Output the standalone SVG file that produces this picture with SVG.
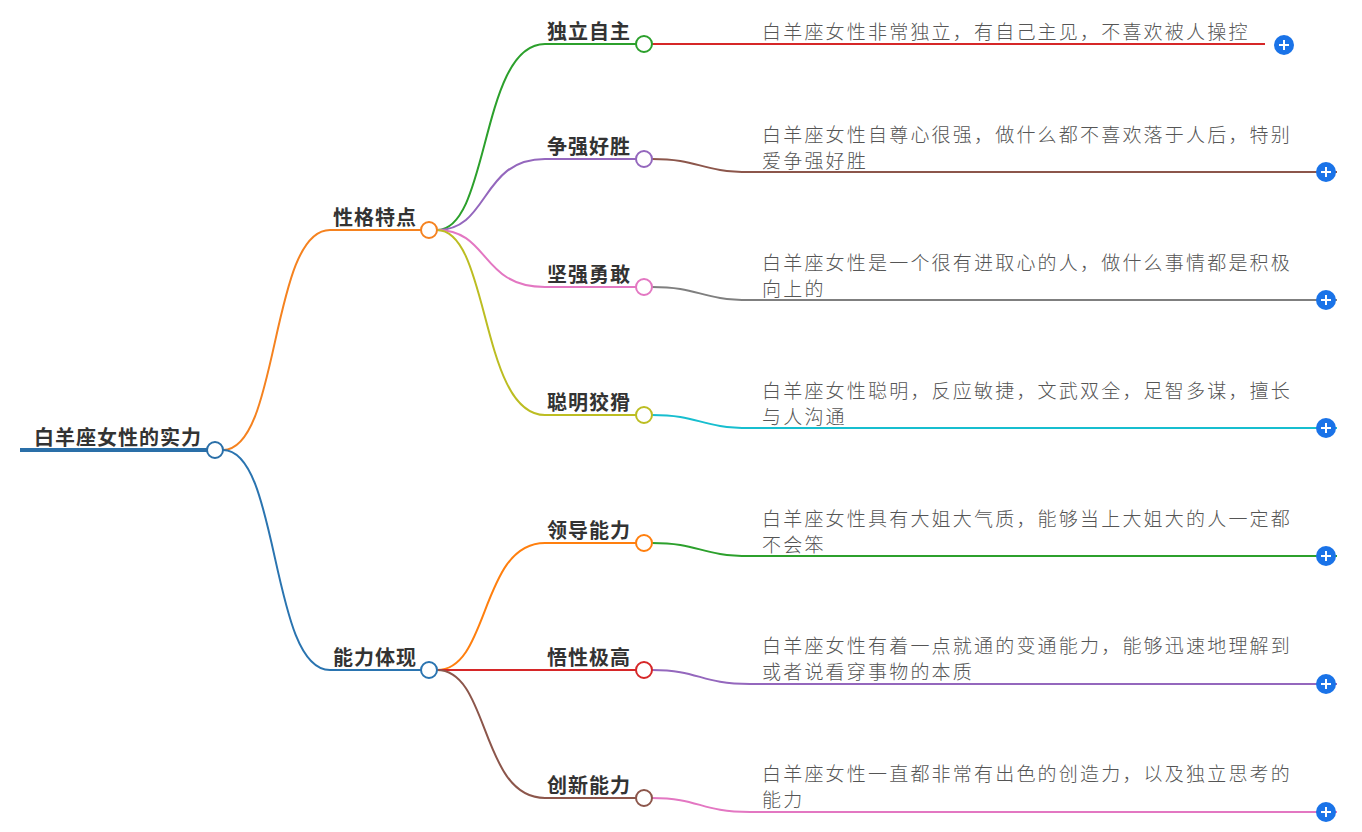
<svg xmlns="http://www.w3.org/2000/svg" width="1362" height="832" viewBox="0 0 1362 832">
<style>
.e{fill:none;stroke-width:2}
.n{fill:#fff;stroke-width:2}
.t{font-family:"Noto Sans CJK SC",sans-serif;font-size:20px;letter-spacing:1px;font-weight:bold;fill:#333}
.l{font-family:"Noto Sans CJK SC",sans-serif;font-size:19px;letter-spacing:2.2px;font-weight:300;fill:#555}
.p{fill:#1a73e8}
.pl{stroke:#fff;stroke-width:2}
</style>
<defs>
<g id="plus"><circle class="p" r="10"/><path class="pl" d="M-5,0H5M0,-5V5"/></g>
</defs>
<g id="connectors">
<path d="M20,450H207" stroke="#2a6fa8" stroke-width="4" fill="none"/>
<path class="e" stroke="#f5821f" d="M223,450C280,450 270,230 330,230H421"/>
<path class="e" stroke="#2a74b0" d="M223,450C280,450 270,670 330,670H421"/>
<path class="e" stroke="#2ca02c" d="M437,230C490,230 480,44 545,44H636"/>
<path class="e" stroke="#9467bd" d="M437,230C490,230 480,159 545,159H636"/>
<path class="e" stroke="#e377c2" d="M437,230C490,230 480,287 545,287H636"/>
<path class="e" stroke="#bcbd22" d="M437,230C490,230 480,415 545,415H636"/>
<path class="e" stroke="#ff7f0e" d="M437,670C490,670 480,543 545,543H636"/>
<path class="e" stroke="#d62728" d="M437,670H636"/>
<path class="e" stroke="#8c564b" d="M437,670C490,670 480,798 545,798H636"/>
<path class="e" stroke="#d62728" d="M652,44H1265"/>
<path class="e" stroke="#8c564b" d="M652,159C700,159 700,172 750,172H1337"/>
<path class="e" stroke="#7f7f7f" d="M652,287C700,287 700,300 750,300H1337"/>
<path class="e" stroke="#17becf" d="M652,415C700,415 700,428 750,428H1337"/>
<path class="e" stroke="#2ca02c" d="M652,543C700,543 700,556 750,556H1337"/>
<path class="e" stroke="#9467bd" d="M652,670C700,670 700,684 750,684H1337"/>
<path class="e" stroke="#e377c2" d="M652,798C700,798 700,812 750,812H1337"/>
</g>
<g id="root"><text class="t" x="34" y="445">白羊座女性的实力</text><circle class="n" stroke="#2a6fa8" cx="215" cy="450" r="8"/></g>
<g id="n1"><text class="t" x="333" y="225">性格特点</text><circle class="n" stroke="#f5821f" cx="429" cy="230" r="8"/></g>
<g id="n2"><text class="t" x="333" y="665">能力体现</text><circle class="n" stroke="#2a74b0" cx="429" cy="670" r="8"/></g>
<g id="c1"><text class="t" x="547" y="39">独立自主</text><circle class="n" stroke="#2ca02c" cx="644" cy="44" r="8"/></g>
<g id="c2"><text class="t" x="547" y="154">争强好胜</text><circle class="n" stroke="#9467bd" cx="644" cy="159" r="8"/></g>
<g id="c3"><text class="t" x="547" y="282">坚强勇敢</text><circle class="n" stroke="#e377c2" cx="644" cy="287" r="8"/></g>
<g id="c4"><text class="t" x="547" y="410">聪明狡猾</text><circle class="n" stroke="#bcbd22" cx="644" cy="415" r="8"/></g>
<g id="c5"><text class="t" x="547" y="538">领导能力</text><circle class="n" stroke="#ff7f0e" cx="644" cy="543" r="8"/></g>
<g id="c6"><text class="t" x="547" y="665">悟性极高</text><circle class="n" stroke="#d62728" cx="644" cy="670" r="8"/></g>
<g id="c7"><text class="t" x="547" y="793">创新能力</text><circle class="n" stroke="#8c564b" cx="644" cy="798" r="8"/></g>
<g id="l1"><text class="l" x="762" y="39">白羊座女性非常独立，有自己主见，不喜欢被人操控</text><use href="#plus" x="1284" y="45"/></g>
<g id="l2"><text class="l" x="762" y="142">白羊座女性自尊心很强，做什么都不喜欢落于人后，特别</text><text class="l" x="762" y="168">爱争强好胜</text><use href="#plus" x="1326" y="172"/></g>
<g id="l3"><text class="l" x="762" y="270">白羊座女性是一个很有进取心的人，做什么事情都是积极</text><text class="l" x="762" y="296">向上的</text><use href="#plus" x="1326" y="300"/></g>
<g id="l4"><text class="l" x="762" y="398">白羊座女性聪明，反应敏捷，文武双全，足智多谋，擅长</text><text class="l" x="762" y="424">与人沟通</text><use href="#plus" x="1326" y="428"/></g>
<g id="l5"><text class="l" x="762" y="526">白羊座女性具有大姐大气质，能够当上大姐大的人一定都</text><text class="l" x="762" y="552">不会笨</text><use href="#plus" x="1326" y="556"/></g>
<g id="l6"><text class="l" x="762" y="653">白羊座女性有着一点就通的变通能力，能够迅速地理解到</text><text class="l" x="762" y="679">或者说看穿事物的本质</text><use href="#plus" x="1326" y="684"/></g>
<g id="l7"><text class="l" x="762" y="781">白羊座女性一直都非常有出色的创造力，以及独立思考的</text><text class="l" x="762" y="807">能力</text><use href="#plus" x="1326" y="812"/></g>
</svg>
